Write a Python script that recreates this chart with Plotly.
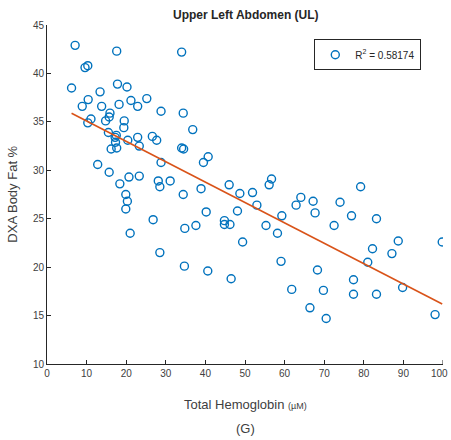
import plotly.graph_objects as go

# Total hemoglobin (uM) vs DXA body fat (%) for the upper left abdomen site
hemoglobin = [
    7.1, 17.6, 34.0, 9.6, 10.3, 6.2, 17.8, 20.2, 13.4, 10.4,
    8.9, 13.8, 18.2, 21.2, 22.9, 25.2, 28.8, 34.4, 15.9, 15.7,
    14.8, 11.1, 10.3, 19.5, 19.4, 15.5, 17.2, 17.3, 17.6, 16.2,
    17.5, 20.4, 22.9, 23.3, 26.6, 27.7, 28.8, 34.0, 34.5, 12.8,
    15.7, 18.4, 20.7, 23.3, 28.1, 28.5, 31.1, 19.9, 20.3, 19.9,
    26.8, 21.0, 28.5, 34.4, 34.8, 34.7, 36.8, 40.7, 39.5, 38.9,
    46.0, 48.7, 51.9, 56.1, 56.7, 53.0, 40.2, 48.1, 37.6, 44.8,
    44.8, 46.2, 55.3, 58.2, 49.4, 59.3, 62.9, 64.1, 67.2, 67.7,
    40.6, 46.5, 59.1, 61.8, 68.3, 79.2, 74.0, 76.9, 83.2, 72.5,
    88.7, 99.8, 82.2, 87.1, 81.0, 77.4, 69.8, 77.4, 83.2, 89.8,
    66.4, 70.5, 98.0,
]
body_fat = [
    42.9, 42.3, 42.2, 40.6, 40.8, 38.5, 38.9, 38.6, 38.1, 37.3,
    36.6, 36.6, 36.8, 37.2, 36.6, 37.4, 36.1, 35.9, 35.9, 35.5,
    35.1, 35.3, 34.9, 35.1, 34.4, 33.9, 33.4, 32.9, 32.3, 32.2,
    33.6, 33.1, 33.4, 32.5, 33.5, 33.1, 30.8, 32.3, 32.2, 30.6,
    29.8, 28.6, 29.3, 29.4, 28.9, 28.3, 28.9, 27.5, 26.8, 26.0,
    24.9, 23.5, 21.5, 27.5, 24.0, 20.1, 34.2, 31.4, 30.8, 28.1,
    28.5, 27.6, 27.7, 28.5, 29.1, 26.4, 25.7, 25.8, 24.3, 24.8,
    24.4, 24.4, 24.3, 23.5, 22.6, 25.3, 26.4, 27.2, 26.8, 25.6,
    19.6, 18.8, 20.6, 17.7, 19.7, 28.3, 26.7, 25.3, 25.0, 24.3,
    22.7, 22.6, 21.9, 21.4, 20.5, 18.7, 17.6, 17.2, 17.2, 17.9,
    15.8, 14.7, 15.1,
]

# Least-squares trend line
fit_slope = -0.2105
fit_intercept = 37.2
fit_x = [min(hemoglobin), max(hemoglobin)]
fit_y = [fit_intercept + fit_slope * v for v in fit_x]
r_squared = 0.58174

x_ticks = list(range(0, 101, 10))
x_tick_labels = [str(v) for v in x_ticks]
y_ticks = list(range(10, 46, 5))

font_family = "Liberation Sans, Arial, sans-serif"
tick_font = dict(family=font_family, size=10, color="#404040")
blue = "#0072BD"
orange = "#D95319"

fig = go.Figure()
fig.add_trace(go.Scatter(
    x=hemoglobin, y=body_fat, mode="markers",
    name=f"R<sup>2</sup> = {r_squared:.5f}",
    marker=dict(symbol="circle-open", size=8, color=blue,
                line=dict(width=1.4, color=blue)),
))
fig.add_trace(go.Scatter(
    x=fit_x, y=fit_y, mode="lines", showlegend=False,
    line=dict(color=orange, width=1.6),
))

axis_common = dict(
    showgrid=False, zeroline=False, showline=True, linecolor="#262626",
    linewidth=1, ticks="inside", ticklen=4, tickcolor="#262626",
    tickfont=tick_font, mirror=False, automargin=False,
)

fig.update_layout(
    width=451, height=440,
    margin=dict(l=47, r=8, t=25, b=76),
    paper_bgcolor="white", plot_bgcolor="white",
    font=dict(family=font_family, color="#404040"),
    title=dict(text="<b>Upper Left Abdomen (UL)</b>", x=0.545, xanchor="center",
               y=0.967, yanchor="middle",
               font=dict(family=font_family, size=12, color="#262626")),
    # the last x label sits at the page edge, so it is placed as an
    # annotation pulled slightly left of its tick
    xaxis=dict(range=[0, 100], tickvals=x_ticks[:-1],
               ticktext=x_tick_labels[:-1], **axis_common),
    yaxis=dict(range=[10, 45], tickvals=y_ticks, **axis_common),
    showlegend=True,
    legend=dict(x=0.675, y=0.958, xanchor="left", yanchor="top",
                bgcolor="white", bordercolor="#262626", borderwidth=1,
                font=dict(family=font_family, size=10, color="#262626"),
                itemwidth=30),
    shapes=[dict(type="line", xref="x", yref="paper",
                 x0=x_ticks[-1], x1=x_ticks[-1], y0=0, y1=4 / 339,
                 line=dict(color="#262626", width=1))],
)

fig.add_annotation(
    text=x_tick_labels[-1], xref="x", yref="paper", x=x_ticks[-1], y=0,
    xanchor="right", yanchor="top", xshift=7, yshift=-2, showarrow=False,
    font=tick_font,
)

# Axis titles and panel letter
fig.add_annotation(
    text="Total Hemoglobin <span style='font-size:9px'>(µM)</span>",
    xref="paper", yref="paper", x=0.5, y=-0.12, yanchor="middle",
    showarrow=False, font=dict(family=font_family, size=13, color="#404040"),
)
fig.add_annotation(
    text="(G)", xref="paper", yref="paper", x=0.5, y=-0.19, yanchor="middle",
    showarrow=False, font=dict(family=font_family, size=13, color="#404040"),
)
fig.add_annotation(
    text="DXA Body Fat %", xref="paper", yref="paper", x=-0.088, y=0.5,
    xanchor="center", textangle=-90, showarrow=False,
    font=dict(family=font_family, size=13, color="#404040"),
)

fig.write_html("out.html")
